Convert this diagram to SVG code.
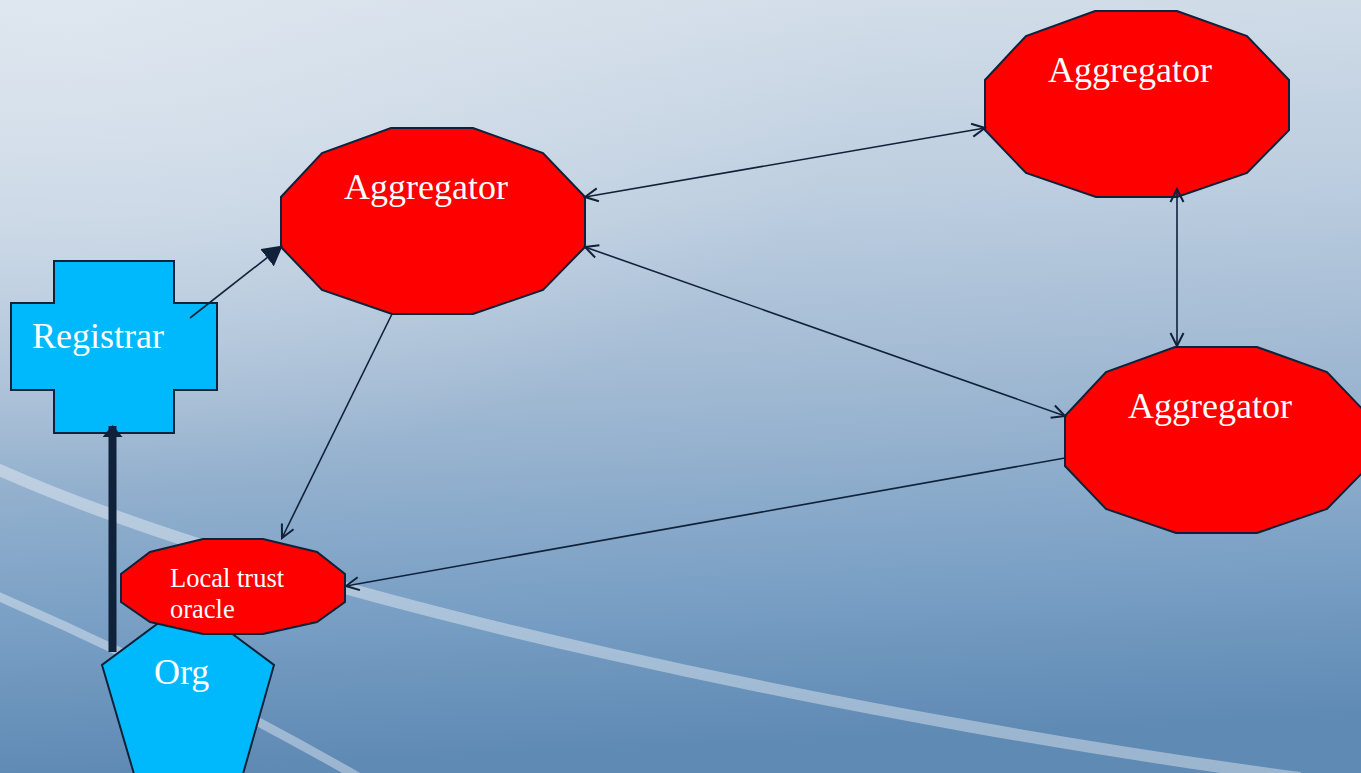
<svg xmlns="http://www.w3.org/2000/svg" width="1361" height="773" viewBox="0 0 1361 773">
  <defs>
    <linearGradient id="bg" x1="0" y1="0" x2="0.08" y2="1">
      <stop offset="0" stop-color="#d6e0ea"/>
      <stop offset="0.3" stop-color="#bdcee0"/>
      <stop offset="0.55" stop-color="#9fb8d2"/>
      <stop offset="0.8" stop-color="#7aa0c5"/>
      <stop offset="1" stop-color="#5f8ab4"/>
    </linearGradient>
    <radialGradient id="glow" cx="0.05" cy="0.02" r="0.6">
      <stop offset="0" stop-color="#e2e9f1" stop-opacity="0.7"/>
      <stop offset="1" stop-color="#e2e9f1" stop-opacity="0"/>
    </radialGradient>
    <marker id="open" viewBox="0 0 16 16" refX="14" refY="8" markerWidth="16" markerHeight="16" markerUnits="userSpaceOnUse" orient="auto-start-reverse">
      <path d="M1,1.5 L14,8 L1,14.5" fill="none" stroke="#10213a" stroke-width="2"/>
    </marker>
    <marker id="solid" viewBox="0 0 20 22" refX="19" refY="11" markerWidth="20" markerHeight="22" markerUnits="userSpaceOnUse" orient="auto">
      <path d="M0,0 L20,11 L0,22 Z" fill="#10213a"/>
    </marker>
    <marker id="thick" viewBox="0 0 12 20" refX="11" refY="10" markerWidth="12" markerHeight="20" markerUnits="userSpaceOnUse" orient="auto">
      <path d="M0,0 L12,10 L0,20 Z" fill="#10213a"/>
    </marker>
  </defs>
  <style>
    .node { stroke: #10213a; stroke-width: 2; stroke-linejoin: miter; }
    .red { fill: #ff0000; }
    .cyan { fill: #00b9fc; }
    .lbl { font-family: "Liberation Serif", "Times New Roman", serif; fill: #ffffff; }
    .conn { stroke: #10213a; stroke-width: 1.6; fill: none; }
  </style>

  <rect x="0" y="0" width="1361" height="773" fill="url(#bg)"/>
  <rect x="0" y="0" width="1361" height="773" fill="url(#glow)"/>
  <g id="background-curves" fill="none" stroke="#ffffff" stroke-opacity="0.38">
    <path d="M -5,468 C 300,605 900,725 1300,778" stroke-width="12"/>
    <path d="M -5,595 Q 180,675 360,778" stroke-width="9"/>
  </g>

  <g id="registrar">
    <polygon class="node cyan" points="54,261 174,261 174,303 217,303 217,390 174,390 174,433 54,433 54,390 11,390 11,303 54,303"/>
    <text class="lbl" x="98" y="348" font-size="36" text-anchor="middle">Registrar</text>
  </g>

  <g id="aggregator-1">
    <polygon class="node red" points="391,128 473,128 543,153 585,197 585,247 543,290 473,314 392,314 322,290 281,247 281,197 322,153"/>
    <text class="lbl" x="426" y="199" font-size="36" text-anchor="middle">Aggregator</text>
  </g>

  <g id="aggregator-2">
    <polygon class="node red" points="1095,11 1177,11 1247,36 1289,80 1289,130 1247,173 1177,197 1096,197 1026,173 985,130 985,80 1026,36"/>
    <text class="lbl" x="1130" y="82" font-size="36" text-anchor="middle">Aggregator</text>
  </g>

  <g id="aggregator-3">
    <polygon class="node red" points="1175,347 1257,347 1327,372 1369,416 1369,466 1327,509 1257,533 1176,533 1106,509 1065,466 1065,416 1106,372"/>
    <text class="lbl" x="1210" y="418" font-size="36" text-anchor="middle">Aggregator</text>
  </g>

  <g id="org">
    <polygon class="node cyan" points="188,601 274,665 243,774 134,774 102,665"/>
    <text class="lbl" x="154" y="684" font-size="36">Org</text>
  </g>

  <g id="local-trust-oracle">
    <polygon class="node red" points="203,539 263,539 317,552 345,574 345,602 317,622 263,634 203,634 150,622 121,602 121,574 150,552"/>
    <text class="lbl" x="170" y="587" font-size="26.5">Local trust</text>
    <text class="lbl" x="170" y="618" font-size="26.5">oracle</text>
  </g>

  <g id="connectors">
    <line class="conn" x1="190" y1="318" x2="282" y2="246" stroke-width="2" marker-end="url(#solid)"/>
    <line class="conn" x1="392" y1="314" x2="282" y2="538" marker-end="url(#open)"/>
    <line class="conn" x1="585" y1="197" x2="985" y2="128" marker-start="url(#open)" marker-end="url(#open)"/>
    <line class="conn" x1="585" y1="247" x2="1065" y2="416" marker-start="url(#open)" marker-end="url(#open)"/>
    <line class="conn" x1="1177" y1="189" x2="1177" y2="346" marker-start="url(#open)" marker-end="url(#open)"/>
    <line class="conn" x1="1065" y1="458" x2="346" y2="586" marker-end="url(#open)"/>
    <line x1="112.5" y1="652" x2="112.5" y2="426" stroke="#10213a" stroke-width="8" marker-end="url(#thick)"/>
  </g>
</svg>
